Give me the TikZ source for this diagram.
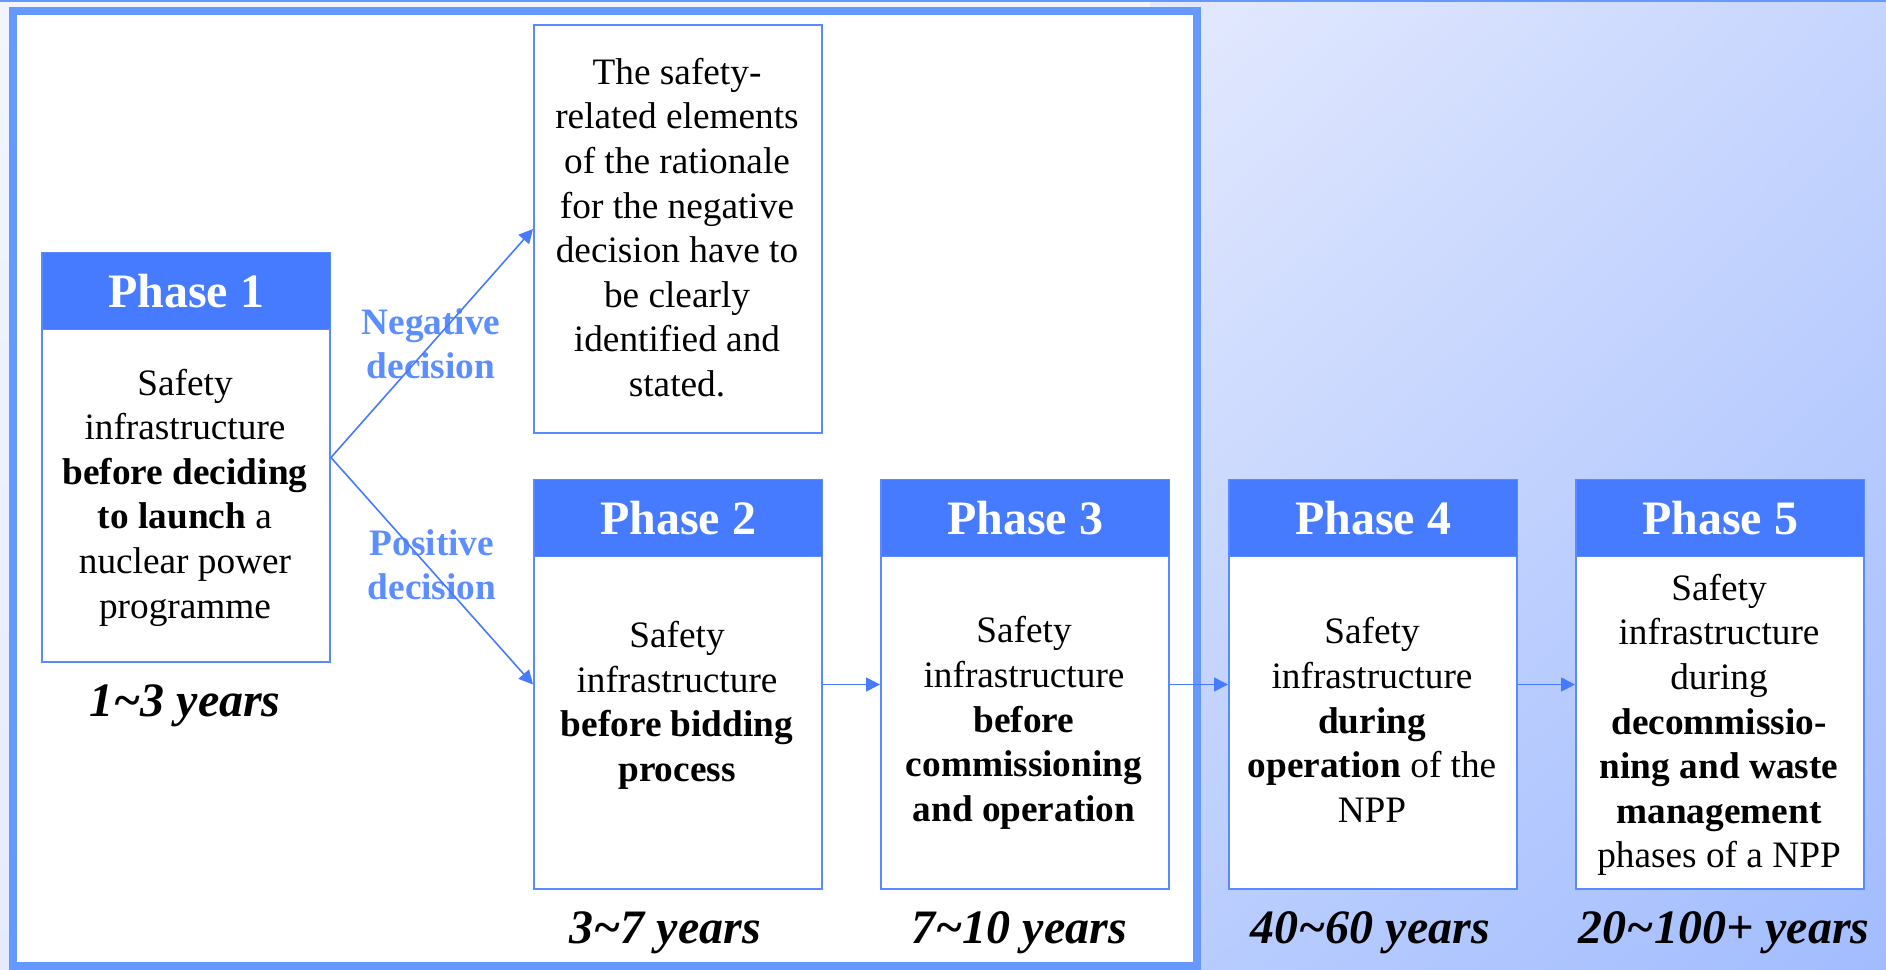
\documentclass[tikz,border=0pt]{standalone}
\usepackage{fontspec}
\setmainfont{Liberation Serif}
\usetikzlibrary{arrows.meta,shadings}
\definecolor{hdr}{HTML}{467BFF}
\definecolor{bdr}{HTML}{5A8AFF}
\definecolor{pnl}{HTML}{6699FF}
\definecolor{lbl}{HTML}{5C8EFF}
\definecolor{bgUL}{RGB}{228,234,254}
\definecolor{bgUR}{RGB}{198,213,254}
\definecolor{bgLL}{RGB}{185,205,254}
\definecolor{bgLR}{RGB}{162,188,254}
\definecolor{bgT}{RGB}{242,245,255}
\definecolor{bgB}{RGB}{229,235,254}
\begin{document}
\begin{tikzpicture}[x=1pt,y=-1pt,
  box/.style={draw=bdr,line width=2pt,fill=white,minimum width=288pt,minimum height=409pt,inner sep=0pt,anchor=north west},
  hdrbox/.style={fill=hdr,draw=bdr,line width=1pt,minimum width=288pt,minimum height=77pt,inner sep=0pt,anchor=north,text=white,font=\fontsize{48}{52}\selectfont\bfseries},
  body/.style={align=center,inner sep=0pt,font=\fontsize{37.3}{44.6}\selectfont},
  yrs/.style={inner sep=0pt,font=\fontsize{48}{52}\selectfont\bfseries\itshape},
  dec/.style={align=center,inner sep=0pt,text=lbl,font=\fontsize{37.3}{44}\selectfont\bfseries},
  arr/.style={draw=hdr,line width=1.6pt,-{Triangle[length=14pt,width=14pt]}}
]
\useasboundingbox (0,0) rectangle (1886,969);
\shade[top color=bgT, bottom color=bgB] (0,0) rectangle (1151,969);
\shade[upper left=bgUL, upper right=bgUR, lower left=bgLL, lower right=bgLR] (1150,0) rectangle (1886,969);
\draw[pnl, line width=2.5pt] (0,1) -- (1886,1);
\draw[pnl, line width=8pt, fill=white] (13,11) rectangle (1197,966);

% boxes
\node[box] (p1) at (41,252) {};
\node[hdrbox] (p1h) at (p1.north) {Phase 1};
\node[box,minimum height=408pt] (neg) at (533,24) {};
\node[box] (p2) at (533,479) {};
\node[hdrbox] (p2h) at (p2.north) {Phase 2};
\node[box] (p3) at (880,479) {};
\node[hdrbox] (p3h) at (p3.north) {Phase 3};
\node[box] (p4) at (1228,479) {};
\node[hdrbox] (p4h) at (p4.north) {Phase 4};
\node[box] (p5) at (1575,479) {};
\node[hdrbox] (p5h) at (p5.north) {Phase 5};

% texts
\node[body] (p1t) at (185,497.5) {Safety\\infrastructure\\\textbf{before deciding}\\\textbf{to launch} a\\nuclear power\\programme};
\node[body] (negt) at (677,227.5) {The safety-\\related elements\\of the rationale\\for the negative\\decision have to\\be clearly\\identified and\\stated.};
\node[body] (p2t) at (677,705.5) {Safety\\infrastructure\\\textbf{before bidding}\\\textbf{process}};
\node[body] (p3t) at (1024,723) {Safety\\infrastructure\\\textbf{before}\\\textbf{commissioning}\\\textbf{and operation}};
\node[body] (p4t) at (1372,720) {Safety\\infrastructure\\\textbf{during}\\\textbf{operation} of the\\NPP};
\node[body] (p5t) at (1719,725) {Safety\\infrastructure\\during\\\textbf{decommissio-}\\\textbf{ning and waste}\\\textbf{management}\\phases of a NPP};

% years
\node[yrs] (p1y) at (185,706) {1\textasciitilde3 years};
\node[yrs] (p2y) at (665,933) {3\textasciitilde7 years};
\node[yrs] (p3y) at (1019,933) {7\textasciitilde10 years};
\node[yrs] (p4y) at (1370,933) {40\textasciitilde60 years};
\node[yrs] (p5y) at (1724,933) {20\textasciitilde100+ years};

% decision labels
\node[dec] (negl) at (431,344) {Negative\\decision};
\node[dec] (posl) at (432,564.5) {Positive\\decision};

% arrows
\draw[arr] (p1.east) -- (neg.west);
\draw[arr] (p1.east) -- (p2.west);
\draw[arr] (p2.east) -- (p3.west);
\draw[arr] (p3.east) -- (p4.west);
\draw[arr] (p4.east) -- (p5.west);
\end{tikzpicture}
\end{document}
